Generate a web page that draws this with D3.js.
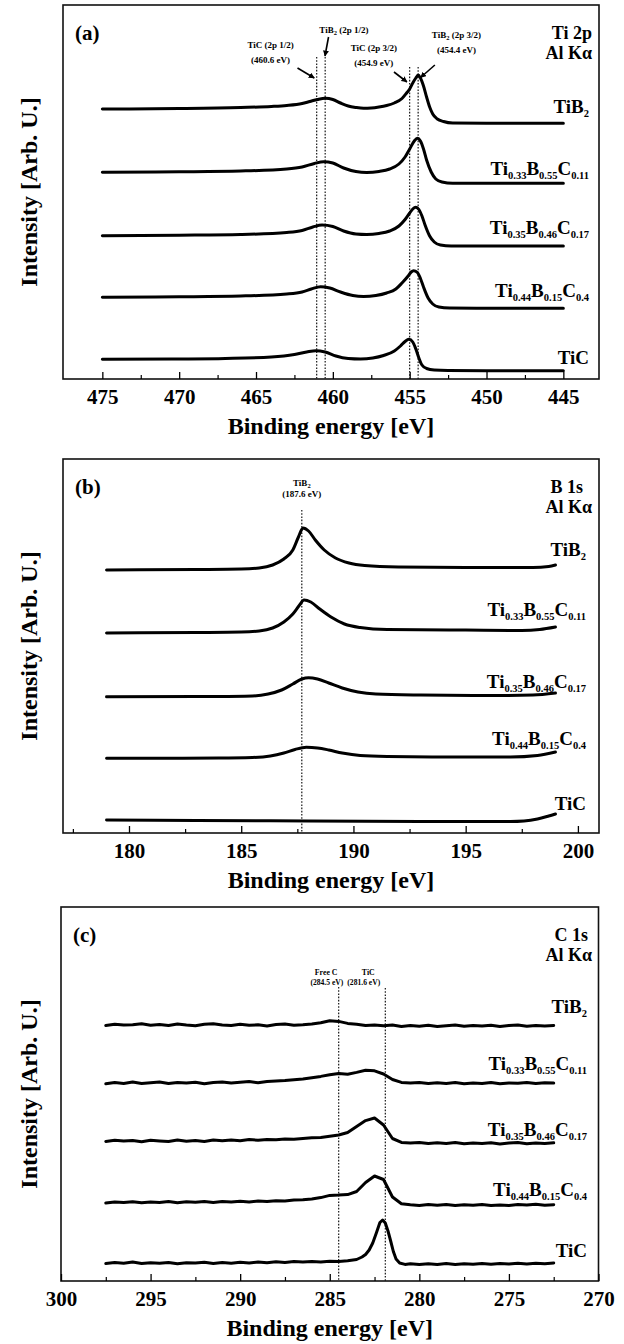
<!DOCTYPE html>
<html><head><meta charset="utf-8">
<script src="https://cdn.jsdelivr.net/npm/d3@7"></script>
<style>body{margin:0;background:#fff}svg{display:block}</style>
</head><body>
<svg id="chart" width="624" height="1344"></svg>
<script>
// ---------------- DATA ----------------
const sampleLabels = [
  [{t:"TiB"},{t:"2",sub:true}],
  [{t:"Ti"},{t:"0.33",sub:true},{t:"B"},{t:"0.55",sub:true},{t:"C"},{t:"0.11",sub:true}],
  [{t:"Ti"},{t:"0.35",sub:true},{t:"B"},{t:"0.46",sub:true},{t:"C"},{t:"0.17",sub:true}],
  [{t:"Ti"},{t:"0.44",sub:true},{t:"B"},{t:"0.15",sub:true},{t:"C"},{t:"0.4",sub:true}],
  [{t:"TiC"}]
];
const ticksA = [475,470,465,460,455,450,445];
const minorA = [472.5,467.5,462.5,457.5,452.5,447.5];
const ticksB = [180,185,190,195,200];
const minorB = [177.5,182.5,187.5,192.5,197.5];
const ticksC = [300,295,290,285,280,275,270];
const minorC = [297.5,292.5,287.5,282.5,277.5,272.5];

// reference (dotted) line energies, eV
const refA = [461.05,460.5,455.0,454.45];
const refB = [187.7];
const refC = [284.5,281.9];

// Ti 2p spectra [binding energy eV, intensity arb.u. incl. offset]
const ti2pTiB2 = [[475,270],[470,270.5],[466,271.5],[464,272.5],[463,273.5],[462,275.5],[461.5,277.5],[461,279.5],[460.5,280.7],[460,279.5],[459.5,276],[459,273],[458.5,271.5],[458,270.7],[457.5,271],[457,272],[456.5,273.5],[456,276],[455.5,280.5],[455.2,286],[455,290],[454.8,296],[454.6,301],[454.45,304],[454.3,301],[454.1,293],[453.9,282],[453.7,272],[453.5,265],[453.2,260],[452.8,257.5],[452.2,256],[450,255.7],[445,255.7]];
const ti2pS1 = [[475,206.7],[470,207.2],[466,208],[463,210],[462,212],[461.2,215.5],[460.6,217.3],[460,216],[459.3,211],[458.5,207.5],[457.8,206.5],[457,207.5],[456.3,210],[455.7,215],[455.3,222],[455,230],[454.7,238],[454.5,240.7],[454.3,238],[454.1,230],[453.9,219],[453.6,207],[453.3,200],[452.9,197],[452.2,195.7],[450,195.7],[445,195.7]];
const ti2pS2 = [[475,143.3],[470,143.8],[466,144.5],[463,146.5],[462,148.5],[461.3,152],[460.7,154],[460,152.5],[459.3,148],[458.5,145],[457.8,144.5],[457,145.5],[456.3,148],[455.7,153],[455.3,159.5],[455,166],[454.8,170],[454.6,171.7],[454.4,169.5],[454.2,163],[454,154],[453.7,143],[453.4,137],[453,134],[452.3,133],[450,133],[445,133]];
const ti2pS3 = [[475,81.7],[470,82.2],[466,83],[463,85],[462,87],[461.4,90],[460.8,92.3],[460.2,91],[459.5,87],[458.7,83.5],[458,82.5],[457.2,83.5],[456.5,86],[455.9,90],[455.5,96],[455.1,103],[454.9,107],[454.75,108.3],[454.5,106.5],[454.3,100.5],[454.1,92],[453.8,81],[453.5,75],[453.1,72],[452.4,71],[450,70.7],[445,70.7]];
const ti2pTiC = [[475,19.7],[470,20],[467,20.5],[464,22],[462.5,24.5],[461.7,27],[461.1,28.3],[460.5,27],[459.8,23],[459,20.5],[458.2,20],[457.4,21],[456.7,23.5],[456,28],[455.6,33],[455.3,37.5],[455.05,39.7],[454.8,37],[454.6,30],[454.4,21],[454.2,14],[453.9,10.5],[453.4,9],[452.5,8.5],[450,8.3],[445,8.3]];

// B 1s spectra
const b1sTiB2 = [[179,263],[183,263.5],[185,264],[185.8,265],[186.4,268],[186.9,274],[187.3,283],[187.55,296],[187.75,305],[188.0,302],[188.3,293],[188.7,283],[189.2,275],[189.8,270],[190.5,267.5],[192,266],[195,265.5],[198,265.5],[198.7,266.5],[199,268]];
const b1sS1 = [[179,200],[183,200.5],[185,201],[185.8,202],[186.4,205],[186.9,211],[187.3,219],[187.6,228],[187.8,233],[188.1,231],[188.5,224],[189,216],[189.6,209],[190.3,205.5],[191.5,203.5],[195,203],[197.5,202.5],[198.3,203.5],[199,206]];
const b1sS2 = [[179,136.3],[184,136.5],[185.5,137],[186.2,139],[186.8,143],[187.3,149],[187.7,154],[188,155.3],[188.4,154],[188.9,150],[189.5,145],[190.2,141],[191,139],[193,138],[196,137.5],[198,138],[199,140]];
const b1sS3 = [[179,74.7],[184,75],[185.5,75.5],[186.3,77],[186.9,80],[187.4,83.5],[187.9,85.7],[188.4,85],[188.9,83],[189.5,80],[190.3,77.5],[191.5,76.5],[194,76],[197,76],[198.2,77.5],[199,81]];
const b1sTiC = [[179,13],[183,12.5],[188,12],[193,11.5],[197,11.5],[197.6,12],[198.2,14],[198.7,17],[199,19]];

// C 1s spectra
const c1sTiB2 = [[297.5,255.5],[297,256.8],[296.5,255.9],[296,256.3],[295.5,257.2],[295,255.8],[294.5,256.5],[294,255.4],[293.5,256.9],[293,256.0],[292.5,255.3],[292,256.7],[291.5,257.3],[291,256.1],[290.5,255.6],[290,256.8],[289.5,255.7],[289,256.2],[288.5,255.1],[288,256.4],[287.5,256.9],[287,255.8],[286.5,256.3],[286,257.0],[285.5,258.2],[285,260.3],[284.5,259.6],[284,257.6],[283.5,256.8],[283,255.4],[282.5,256.1],[282,255.2],[281.5,255.9],[281,254.6],[280.5,255.4],[280,254.8],[279.5,255.7],[279,254.5],[278.5,255.3],[278,256.0],[277.5,254.7],[277,255.5],[276.5,254.9],[276,255.8],[275.5,254.6],[275,255.4],[274.5,256.1],[274,254.8],[273.5,255.6],[273,254.9],[272.5,255.5]];
const c1sS1 = [[297.5,197.2],[297,198.5],[296.5,197.6],[296,198.9],[295.5,197.4],[295,198.2],[294.5,199.0],[294,197.5],[293.5,198.6],[293,197.9],[292.5,198.8],[292,197.3],[291.5,198.5],[291,199.1],[290.5,198.0],[290,198.7],[289.5,199.4],[289,198.3],[288.5,199.5],[288,199.9],[287.5,200.4],[287,201.3],[286.5,202.0],[286,203.2],[285.5,204.6],[285,206.3],[284.5,207.5],[284,206.8],[283.5,208.6],[283,210.7],[282.5,210.2],[282,207.0],[281.5,201.5],[281,198.6],[280.5,197.9],[280,198.5],[279.5,197.4],[279,198.2],[278.5,197.6],[278,198.4],[277.5,197.3],[277,198.1],[276.5,197.5],[276,198.6],[275.5,197.2],[275,198.0],[274.5,197.7],[274,198.6],[273.5,197.4],[273,198.3],[272.5,197.9]];
const c1sS2 = [[297.5,139.6],[297,140.8],[296.5,139.9],[296,140.5],[295.5,139.3],[295,140.7],[294.5,140.1],[294,139.4],[293.5,140.9],[293,139.8],[292.5,140.4],[292,139.6],[291.5,140.9],[291,140.2],[290.5,141.0],[290,140.3],[289.5,141.4],[289,140.8],[288.5,141.6],[288,141.2],[287.5,142.0],[287,141.7],[286.5,142.6],[286,143.2],[285.5,143.6],[285,144.8],[284.5,146.0],[284,148.5],[283.5,154.6],[283,160.4],[282.5,163.0],[282,156.0],[281.5,142.5],[281,138.6],[280.5,137.9],[280,138.6],[279.5,137.4],[279,138.2],[278.5,137.6],[278,138.5],[277.5,137.2],[277,138.0],[276.5,137.5],[276,138.3],[275.5,137.1],[275,137.9],[274.5,138.4],[274,137.3],[273.5,138.1],[273,137.6],[272.5,138.2]];
const c1sS3 = [[297.5,78.0],[297,79.1],[296.5,78.4],[296,79.3],[295.5,78.2],[295,79.0],[294.5,78.6],[294,79.5],[293.5,78.3],[293,79.2],[292.5,78.7],[292,79.6],[291.5,78.5],[291,79.4],[290.5,78.9],[290,79.8],[289.5,79.1],[289,80.0],[288.5,79.4],[288,80.3],[287.5,80.0],[287,80.9],[286.5,81.2],[286,82.0],[285.5,83.4],[285,85.6],[284.5,85.9],[284,86.4],[283.5,89.5],[283,98.5],[282.5,105.0],[282,101.5],[281.5,84.0],[281,77.2],[280.5,76.3],[280,75.6],[279.5,76.4],[279,75.8],[278.5,76.6],[278,75.5],[277.5,76.2],[277,75.7],[276.5,76.5],[276,75.4],[275.5,76.1],[275,75.6],[274.5,76.4],[274,75.9],[273.5,76.7],[273,75.8],[272.5,76.3]];
const c1sTiC = [[297.5,17.4],[297,18.5],[296.5,17.8],[296,18.9],[295.5,17.5],[295,18.3],[294.5,17.7],[294,18.6],[293.5,17.3],[293,18.2],[292.5,17.9],[292,18.8],[291.5,17.6],[291,18.4],[290.5,17.8],[290,18.7],[289.5,18.1],[289,19.0],[288.5,18.3],[288,19.2],[287.5,18.6],[287,19.4],[286.5,18.9],[286,19.6],[285.5,19.1],[285,19.8],[284.5,19.5],[284,20.3],[283.5,21.5],[283.2,24.0],[283,26.5],[282.8,31],[282.6,38],[282.4,48],[282.2,58.5],[282.05,61],[281.9,58],[281.75,50],[281.6,40],[281.45,29.5],[281.3,22],[281.1,18],[280.8,16.6],[280.5,17.3],[280,16.4],[279.5,17.2],[279,16.5],[278.5,17.4],[278,16.6],[277.5,17.3],[277,16.7],[276.5,17.5],[276,16.8],[275.5,17.6],[275,17.0],[274.5,17.8],[274,17.1],[273.5,17.7],[273,17.2],[272.5,18.0]];

// ---------------- DRAW ----------------
const FONT = "'Liberation Serif','Times New Roman',serif";
const svg = d3.select("#chart");
svg.append("rect").attr("width",624).attr("height",1344).attr("fill","#fff");

const panels = [
  {id:"(a)", core:"Ti 2p", coreX:592, left:63, right:599, top:5, bottom:379, domain:[477.56,442.68],
   ticks:ticksA, minor:minorA, refs:refA, refTop:[57,57,67,67],
   series:[ti2pTiB2,ti2pS1,ti2pS2,ti2pS3,ti2pTiC], curve:d3.curveMonotoneX, sw:3,
   labelX:589, labelY:[113,175,234,297,364]},
  {id:"(b)", core:"B 1s", coreX:583, left:63, right:599, top:459, bottom:833, domain:[177.06,200.94],
   ticks:ticksB, minor:minorB, refs:refB, refTop:[510],
   series:[b1sTiB2,b1sS1,b1sS2,b1sS3,b1sTiC], curve:d3.curveMonotoneX, sw:3,
   labelX:586, labelY:[556,616,688,745,810]},
  {id:"(c)", core:"C 1s", coreX:588, left:61, right:598.5, top:907, bottom:1281, domain:[300,270],
   ticks:ticksC, minor:minorC, refs:refC, refTop:[987,988],
   series:[c1sTiB2,c1sS1,c1sS2,c1sS3,c1sTiC], curve:d3.curveLinear, sw:3,
   labelX:587, labelY:[1013,1070,1136,1196,1257]}
];

function richText(g, x, y, parts, size, subSize, anchor){
  const t = g.append("text").attr("x",x).attr("y",y).attr("text-anchor",anchor)
    .attr("font-family",FONT).attr("font-weight","bold").attr("fill","#000");
  let shifted = false;
  parts.forEach(p=>{
    const ts = t.append("tspan").text(p.t).attr("font-size", p.sub?subSize:size);
    if(p.sub && !shifted){ ts.attr("dy", subSize*0.38); shifted=true; }
    else if(!p.sub && shifted){ ts.attr("dy", -subSize*0.38); shifted=false; }
  });
  return t;
}

svg.append("defs").append("marker").attr("id","ah").attr("viewBox","0 0 10 10")
  .attr("refX",9).attr("refY",5).attr("markerWidth",6).attr("markerHeight",6)
  .attr("markerUnits","userSpaceOnUse").attr("orient","auto")
  .append("path").attr("d","M0,0 L10,5 L0,10 Z").attr("fill","#000");

panels.forEach(p=>{
  const g = svg.append("g");
  const x = d3.scaleLinear().domain(p.domain).range([p.left,p.right]);
  const y = d3.scaleLinear().domain([0,p.bottom-p.top]).range([p.bottom,p.top]);
  p.x = x; p.y = y;

  // reference lines
  p.refs.forEach((e,i)=>{
    g.append("line").attr("x1",x(e)).attr("x2",x(e)).attr("y1",p.refTop[i]).attr("y2",p.bottom)
      .attr("stroke","#000").attr("stroke-width",1.1).attr("stroke-dasharray","1.6,1.6");
  });

  // spectra
  const line = d3.line().x(d=>x(d[0])).y(d=>y(d[1])).curve(p.curve);
  p.series.forEach(s=>{
    g.append("path").datum(s).attr("d",line).attr("fill","none")
      .attr("stroke","#000").attr("stroke-width",p.sw).attr("stroke-linejoin","round").attr("stroke-linecap","round");
  });

  // series labels
  sampleLabels.forEach((lab,i)=> richText(g, p.labelX, p.labelY[i], lab, 19, 10.5, "end"));

  // frame
  g.append("rect").attr("x",p.left).attr("y",p.top).attr("width",p.right-p.left).attr("height",p.bottom-p.top)
    .attr("fill","none").attr("stroke","#111").attr("stroke-width",1.6);

  // axes
  const ax = g.append("g").attr("transform",`translate(0,${p.bottom})`)
    .call(d3.axisBottom(x).tickValues(p.ticks).tickSize(-7).tickPadding(10.5).tickFormat(d3.format("d")));
  ax.select(".domain").remove();
  ax.selectAll("line").attr("stroke","#000").attr("stroke-width",1.3);
  ax.selectAll("text").attr("font-family",FONT).attr("font-weight","bold").attr("font-size",21).attr("fill","#000");
  const mx = g.append("g").attr("transform",`translate(0,${p.bottom})`)
    .call(d3.axisBottom(x).tickValues(p.minor).tickSize(-4).tickFormat(""));
  mx.select(".domain").remove();
  mx.selectAll("line").attr("stroke","#000").attr("stroke-width",1.2);

  // axis titles
  g.append("text").attr("x",(p.left+p.right)/2).attr("y",p.bottom+55).attr("text-anchor","middle")
    .attr("font-family",FONT).attr("font-weight","bold").attr("font-size",24).text("Binding energy [eV]");
  g.append("text").attr("transform",`translate(37,${(p.top+p.bottom)/2}) rotate(-90)`).attr("text-anchor","middle")
    .attr("font-family",FONT).attr("font-weight","bold").attr("font-size",24).text("Intensity [Arb. U.]");

  // panel id + core level
  g.append("text").attr("x",p.left+12).attr("y",p.top+35).attr("font-family",FONT).attr("font-weight","bold")
    .attr("font-size",21).text(p.id);
  g.append("text").attr("x",p.coreX).attr("y",p.top+33.5).attr("text-anchor","end").attr("font-family",FONT)
    .attr("font-weight","bold").attr("font-size",18).text(p.core);
  g.append("text").attr("x",592).attr("y",p.top+53.5).attr("text-anchor","end").attr("font-family",FONT)
    .attr("font-weight","bold").attr("font-size",18).text("Al K\u03b1");
});

// ---------------- annotations ----------------
function ann(x0,y0,parts,size){ const s=size||9; return richText(svg, x0, y0, parts, s, s*0.72, "middle"); }
function arrow(x1,y1,x2,y2){
  svg.append("line").attr("x1",x1).attr("y1",y1).attr("x2",x2).attr("y2",y2)
    .attr("stroke","#000").attr("stroke-width",1.6).attr("marker-end","url(#ah)");
}
const A = panels[0], B = panels[1], C = panels[2];
// panel (a)
ann(A.x(459.28), 33, [{t:"TiB"},{t:"2",sub:true},{t:" (2p 1/2)"}]);
ann(A.x(464.05), 48, [{t:"TiC (2p 1/2)"}]);
ann(A.x(464.05), 63, [{t:"(460.6 eV)"}]);
ann(A.x(457.33), 51, [{t:"TiC (2p 3/2)"}]);
ann(A.x(457.33), 66, [{t:"(454.9 eV)"}]);
ann(A.x(451.96), 38, [{t:"TiB"},{t:"2",sub:true},{t:" (2p 3/2)"}]);
ann(A.x(451.96), 53, [{t:"(454.4 eV)"}]);
arrow(A.x(462.3), 68, A.x(461.21), 78);
arrow(A.x(460.28), 37, A.x(460.51), 56);
arrow(A.x(456.02), 72, A.x(455.18), 82);
arrow(A.x(453.36), 65, A.x(454.29), 77.5);
// panel (b)
ann(B.x(187.7), 486, [{t:"TiB"},{t:"2",sub:true}]);
ann(B.x(187.7), 497, [{t:"(187.6 eV)"}]);
// panel (c)
ann(C.x(285.2), 975, [{t:"Free C"}], 7.8);
ann(C.x(285.16), 984.5, [{t:"(284.5 eV)"}], 7.6);
ann(C.x(282.85), 975, [{t:"TiC"}], 7.8);
ann(C.x(283.1), 984.5, [{t:"(281.6 eV)"}], 7.6);
</script>
</body></html>
